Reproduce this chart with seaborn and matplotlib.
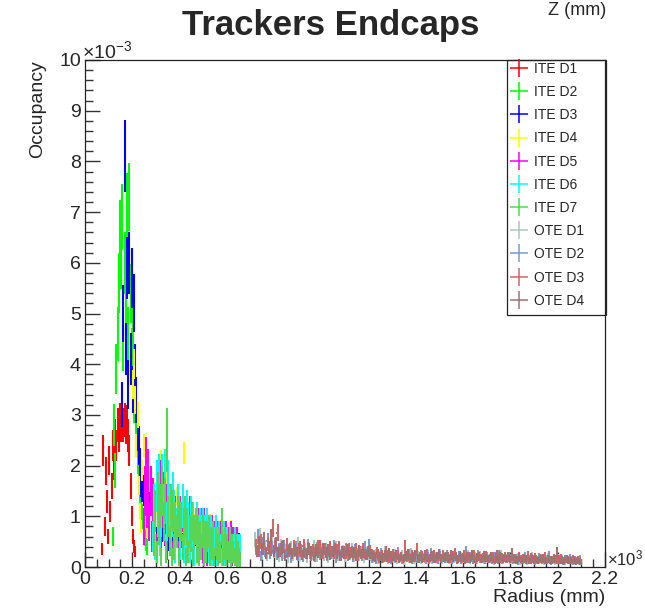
import numpy as np
import seaborn as sns
import matplotlib.pyplot as plt
from matplotlib.lines import Line2D
from matplotlib.patches import Rectangle
from matplotlib.ticker import MultipleLocator, FuncFormatter

# Occupancy per radius bin (units of 1e-3)
ite_d1 = [0.35, 2.3, 0.8, 1.9, 1.3, 0.6, 2.1, 1.1, 1.6, 2.4, 2.0, 2.6, 2.4, 2.8, 2.6,
          2.9, 2.8, 2.95, 2.8, 2.9, 2.75, 2.85, 2.6, 2.3, 1.6, 1.0, 0.6, 0.4, 0.3]
ite_d2 = [0.6, 2.8, 1.9, 3.9, 4.6, 5.6, 6.6, 6.1, 6.9, 4.4, 6.0, 5.1, 7.1, 4.6, 7.3,
          5.4, 4.2, 4.6, 3.3, 3.4, 2.6, 2.2, 1.9, 1.5, 1.3, 1.0, 0.8, 0.6, 0.5, 0.4]
ite_d3 = [3.2, 5.0, 8.1, 4.3, 5.9, 3.6, 6.0, 4.1, 5.7, 3.5, 5.2, 3.9, 3.3, 2.7, 2.4,
          2.0, 1.7, 1.6, 1.5, 1.3, 1.2, 1.1, 1.0, 1.2, 1.3, 1.1,
          0.9, 0.7, 1.0, 0.6, 0.8, 1.1, 0.5, 0.9, 0.7, 1.2, 0.6, 0.8, 1.0, 0.5, 0.9,
          0.7, 1.1, 0.6, 0.8, 0.5, 0.9, 1.2, 0.6, 0.7, 1.0, 0.5, 0.8, 0.6, 0.9, 0.7,
          0.5, 0.8, 0.6, 0.9, 0.4, 0.7, 0.6, 0.8, 0.5, 0.7, 0.6, 0.4, 0.8, 0.5, 0.7,
          0.6, 0.4, 0.7, 0.5, 0.6, 0.4, 0.7, 0.5, 0.3, 0.6, 0.5, 0.4, 0.6, 0.3, 0.5,
          0.4, 0.6, 0.3, 0.5, 0.4, 0.3, 0.5, 0.4, 0.6, 0.3, 0.5, 0.6, 0.4, 0.5, 0.3]
ite_d4 = [3.6, 4.0, 3.3, 2.4, 3.0, 1.6, 1.1, 0.8, 1.9, 2.4, 1.2, 0.9, 0.7, 1.0, 0.8,
          1.2, 0.9, 1.4, 1.1,
          1.5, 1.2, 1.7, 1.3, 1.9, 2.1, 1.4, 1.6, 1.2, 1.8, 1.3, 1.5, 1.1, 1.4, 1.0,
          1.3, 1.2, 0.9, 1.4, 1.1, 1.3, 1.2, 1.0, 1.3, 2.25, 1.1, 0.9, 1.2, 1.0, 1.1,
          0.8, 1.0, 1.1, 0.9, 0.8, 1.0, 0.7, 0.9, 0.8, 1.0, 0.7, 0.8, 0.9, 0.6, 0.8,
          0.7, 0.9, 0.6, 0.8, 0.7, 0.6, 0.8, 0.5, 0.7, 0.6, 0.8, 0.5, 0.6, 0.7, 0.5,
          0.6, 0.7, 0.4, 0.6, 0.8, 0.5, 0.4, 0.6, 0.5, 0.3]
ite_d5 = [0.8, 1.5, 2.0, 1.2, 1.8, 0.9, 1.5, 0.6, 1.3, 0.8, 1.1, 0.4, 1.3, 0.9, 1.6,
          0.5, 1.2, 1.4, 0.8, 1.2, 0.4, 1.5, 0.7, 1.1, 0.3, 1.3, 0.6, 1.0, 0.8, 1.2,
          0.3, 1.0, 0.7, 1.1, 0.4, 1.0, 0.6, 0.9, 0.3, 1.0, 0.7, 0.8, 0.9, 0.3, 0.8,
          0.9, 0.4, 0.8, 0.6, 0.8, 0.3, 0.8, 0.5, 0.7, 0.2, 0.5, 0.7, 0.3, 0.7, 0.4,
          0.6, 0.2, 0.5, 0.6, 0.3, 0.6, 0.5, 0.2, 0.3, 0.5, 0.6, 0.2, 0.5, 0.3, 0.6,
          0.2, 0.5, 0.3, 0.4, 0.5, 0.2, 0.3]
ite_d6 = [0.6, 1.2, 0.4, 1.6, 1.0, 1.7, 0.5, 1.0, 1.7, 1.2, 1.8, 0.4, 0.9, 1.6, 1.2,
          0.5, 1.0, 1.4, 1.1, 0.3, 0.8, 1.2, 1.0, 0.4, 0.9, 1.2, 0.3, 1.0, 0.7, 1.1,
          0.9, 0.3, 1.0, 0.7, 0.9, 0.2, 0.8, 0.9, 0.6, 0.3, 0.8, 0.7, 0.8, 0.2, 0.7,
          0.7, 0.8, 0.3, 0.7, 0.7, 0.2, 0.6, 0.5, 0.7, 0.2, 0.5, 0.6, 0.4, 0.2, 0.5,
          0.6, 0.2, 0.5, 0.5, 0.3, 0.5, 0.2, 0.4, 0.4, 0.5, 0.2, 0.4, 0.4, 0.2, 0.4]
ite_d7 = [0.5, 1.1, 0.3, 1.4, 0.8, 1.2, 0.2, 1.5, 0.9, 1.3, 0.3, 2.5, 1.0, 0.5, 1.2,
          0.2, 1.1, 0.4, 0.9, 0.7, 1.0, 0.2, 0.9, 0.9, 0.4, 0.8, 1.0, 0.2, 0.8, 0.3,
          0.7, 0.6, 0.9, 0.2, 0.7, 0.8, 0.3, 0.7, 0.2, 0.6, 0.4, 0.7, 0.2, 0.6, 0.3,
          0.6, 0.7, 0.2, 0.5, 0.4, 0.6, 0.2, 0.5, 0.4, 0.2, 0.5, 0.3, 0.8, 0.2, 0.4,
          0.5, 0.2, 0.4, 0.3, 0.5, 0.15, 0.4, 0.3, 0.2, 0.4, 0.15, 0.3, 0.2, 0.15]

ote_d1 = [0.55, 0.3, 0.62, 0.25, 0.4, 0.2, 0.35, 0.5, 0.28,
          0.3, 0.18, 0.42, 0.25, 0.33, 0.15, 0.38, 0.22, 0.3, 0.45,
          0.2, 0.27, 0.35, 0.16, 0.31, 0.24, 0.4, 0.19, 0.28, 0.33,
          0.21, 0.36, 0.17, 0.29, 0.25, 0.38, 0.2, 0.26, 0.32, 0.18,
          0.3, 0.23, 0.35, 0.19, 0.27, 0.22, 0.31, 0.16, 0.28, 0.24,
          0.2, 0.15, 0.26, 0.12, 0.22, 0.18, 0.3, 0.14, 0.21, 0.17,
          0.25, 0.13, 0.19, 0.23, 0.11, 0.2, 0.16, 0.27, 0.14, 0.18,
          0.22, 0.12, 0.19, 0.15, 0.24, 0.17, 0.13, 0.21, 0.18, 0.26,
          0.14, 0.2, 0.16, 0.12, 0.23, 0.17, 0.19, 0.13, 0.21, 0.15,
          0.18, 0.24, 0.12, 0.17, 0.2, 0.14, 0.22, 0.16, 0.13, 0.19,
          0.15, 0.21, 0.11, 0.18, 0.16, 0.23, 0.13, 0.17, 0.2, 0.14,
          0.16, 0.12, 0.19, 0.1, 0.15, 0.18, 0.11, 0.14, 0.2, 0.12,
          0.16, 0.13, 0.17, 0.1, 0.15, 0.19, 0.12, 0.14, 0.11, 0.17,
          0.13, 0.15, 0.1, 0.16, 0.12, 0.14, 0.11, 0.13, 0.1]
ote_d2 = [0.35, 0.6, 0.22, 0.45, 0.3, 0.52, 0.26, 0.38, 0.44,
          0.24, 0.36, 0.2, 0.41, 0.28, 0.33, 0.17, 0.3, 0.39, 0.22,
          0.34, 0.19, 0.29, 0.42, 0.25, 0.31, 0.18, 0.37, 0.23, 0.28,
          0.35, 0.2, 0.3, 0.26, 0.4, 0.17, 0.32, 0.24, 0.29, 0.36,
          0.21, 0.27, 0.19, 0.33, 0.25, 0.3, 0.2, 0.38, 0.26, 0.42,
          0.17, 0.23, 0.14, 0.2, 0.27, 0.15, 0.19, 0.24, 0.13, 0.21,
          0.16, 0.28, 0.18, 0.14, 0.22, 0.19, 0.25, 0.12, 0.2, 0.17,
          0.15, 0.23, 0.18, 0.13, 0.21, 0.27, 0.16, 0.19, 0.14, 0.22,
          0.18, 0.15, 0.24, 0.17, 0.12, 0.2, 0.16, 0.22, 0.14, 0.19,
          0.31, 0.16, 0.2, 0.13, 0.18, 0.23, 0.15, 0.19, 0.12, 0.21,
          0.17, 0.14, 0.2, 0.16, 0.24, 0.13, 0.18, 0.15, 0.21, 0.17,
          0.14, 0.18, 0.11, 0.16, 0.13, 0.2, 0.12, 0.15, 0.17, 0.1,
          0.14, 0.19, 0.12, 0.16, 0.13, 0.22, 0.11, 0.15, 0.14, 0.12,
          0.17, 0.1, 0.15, 0.13, 0.18, 0.11, 0.14, 0.12, 0.15]
ote_d3 = [0.42, 0.3, 0.5, 0.35, 0.28, 0.46, 0.33, 0.77, 0.4,
          0.68, 0.3, 0.38, 0.25, 0.44, 0.32, 0.27, 0.4, 0.23, 0.35,
          0.3, 0.42, 0.26, 0.37, 0.22, 0.33, 0.29, 0.4, 0.41, 0.27,
          0.36, 0.24, 0.39, 0.3, 0.25, 0.34, 0.38, 0.22, 0.31, 0.27,
          0.35, 0.29, 0.24, 0.36, 0.21, 0.3, 0.35, 0.26, 0.23, 0.32,
          0.25, 0.2, 0.28, 0.16, 0.23, 0.19, 0.3, 0.17, 0.22, 0.26,
          0.18, 0.24, 0.21, 0.15, 0.4, 0.2, 0.17, 0.23, 0.19, 0.36,
          0.16, 0.22, 0.18, 0.25, 0.14, 0.2, 0.23, 0.17, 0.21, 0.15,
          0.24, 0.18, 0.2, 0.16, 0.22, 0.27, 0.14, 0.19, 0.17, 0.23,
          0.15, 0.2, 0.18, 0.24, 0.13, 0.21, 0.17, 0.19, 0.22, 0.15,
          0.18, 0.2, 0.14, 0.23, 0.16, 0.19, 0.21, 0.15, 0.18, 0.2,
          0.17, 0.13, 0.2, 0.15, 0.18, 0.12, 0.22, 0.14, 0.16, 0.19,
          0.13, 0.17, 0.15, 0.2, 0.12, 0.16, 0.14, 0.18, 0.13, 0.15,
          0.17, 0.12, 0.16, 0.14, 0.13, 0.15, 0.12, 0.14, 0.11]
ote_d4 = [0.3, 0.48, 0.35, 0.55, 0.27, 0.38, 0.6, 0.32, 0.45,
          0.28, 0.35, 0.4, 0.22, 0.3, 0.36, 0.26, 0.33, 0.29, 0.38,
          0.24, 0.31, 0.27, 0.35, 0.3, 0.21, 0.34, 0.28, 0.25, 0.36,
          0.29, 0.33, 0.23, 0.3, 0.35, 0.26, 0.22, 0.31, 0.27, 0.33,
          0.24, 0.3, 0.28, 0.21, 0.32, 0.26, 0.29, 0.23, 0.31, 0.25,
          0.22, 0.18, 0.25, 0.2, 0.16, 0.23, 0.19, 0.27, 0.17, 0.21,
          0.24, 0.15, 0.2, 0.18, 0.22, 0.26, 0.16, 0.19, 0.23, 0.17,
          0.21, 0.15, 0.24, 0.19, 0.18, 0.22, 0.16, 0.2, 0.25, 0.17,
          0.19, 0.21, 0.15, 0.23, 0.18, 0.2, 0.16, 0.22, 0.19, 0.14,
          0.21, 0.17, 0.23, 0.15, 0.19, 0.2, 0.16, 0.22, 0.18, 0.15,
          0.2, 0.17, 0.19, 0.14, 0.21, 0.16, 0.18, 0.2, 0.15, 0.27,
          0.16, 0.14, 0.18, 0.12, 0.17, 0.15, 0.13, 0.19, 0.14, 0.16,
          0.12, 0.15, 0.17, 0.13, 0.16, 0.14, 0.12, 0.15, 0.28, 0.13,
          0.14, 0.11, 0.15, 0.12, 0.13, 0.14, 0.11, 0.12, 0.1]

labels = ["ITE D1", "ITE D2", "ITE D3", "ITE D4", "ITE D5", "ITE D6", "ITE D7",
          "OTE D1", "OTE D2", "OTE D3", "OTE D4"]
# radius of first bin centre (mm) and bin width (mm) for each histogram
first_bin = [72.5, 117.5, 157.5, 202.5, 247.5, 287.5, 292.5, 720, 722.5, 725, 727.5]
bin_width = [5, 5, 5, 5, 5, 5, 5, 10, 10, 10, 10]
# error ~ scale * sqrt(content)
err_scale = [0.2, 0.25, 0.25, 0.15, 0.4, 0.4, 0.4, 0.2, 0.2, 0.2, 0.2]
colors = ["#ff0000", "#00ff00", "#0000ff", "#ffff00", "#ff00ff", "#00ffff", "#59d454",
          "#a9c9bd", "#7d99d1", "#d46466", "#a07272"]
all_values = [ite_d1, ite_d2, ite_d3, ite_d4, ite_d5, ite_d6, ite_d7,
              ote_d1, ote_d2, ote_d3, ote_d4]

sns.set_style("ticks")
plt.rcParams["font.family"] = ["Liberation Sans", "DejaVu Sans"]

W, H = 645, 612
fig = plt.figure(figsize=(W / 100, H / 100), dpi=100)
ax = fig.add_axes([85 / W, 1 - 567 / H, 520 / W, 507 / H])

for vals, x0, w, k, c in zip(all_values, first_bin, bin_width, err_scale, colors):
    v = np.asarray(vals)
    x = x0 + w * np.arange(len(v))
    ax.errorbar(x, v, xerr=w / 2, yerr=k * np.sqrt(v), fmt="none",
                ecolor=c, elinewidth=1.5, capsize=0)

ax.set_xlim(0, 2200)
ax.set_ylim(0, 10)
ax.xaxis.set_major_locator(MultipleLocator(200))
ax.xaxis.set_minor_locator(MultipleLocator(50))
ax.yaxis.set_major_locator(MultipleLocator(1))
ax.yaxis.set_minor_locator(MultipleLocator(0.2))
ax.xaxis.set_major_formatter(FuncFormatter(lambda v, p: f"{v / 1000:g}"))
ax.yaxis.set_major_formatter(FuncFormatter(lambda v, p: f"{v:g}"))
ax.tick_params(which="both", direction="in", top=False, right=False,
               color="#333333", width=1.0)
ax.tick_params(which="major", length=11, labelsize=14, pad=3)
ax.tick_params(which="minor", length=5.5)
for sp in ax.spines.values():
    sp.set_color("#222222")
    sp.set_linewidth(0.9)

fig.text(38 / W, 1 - 60 / H, "Occupancy", rotation=90, ha="center", va="top", fontsize=14)
fig.text(605 / W, 1 - 597 / H, "Radius (mm)", ha="right", va="center", fontsize=14)
fig.text(331 / W, 1 - 26 / H, "Trackers Endcaps", ha="center", va="center",
         fontsize=25, fontweight="bold")
fig.text(606 / W, 1 - 2 / H, "Z (mm)", ha="right", va="top", fontsize=13)
fig.text(82 / W, 1 - 58 / H, r"$\mathregular{\times10^{-3}}$", ha="left",
         va="baseline", fontsize=14)
fig.text(643 / W, 1 - 565 / H, r"$\mathregular{\times10^{3}}$", ha="right",
         va="baseline", fontsize=12)

handles = [Line2D([], [], color=c, marker="+", markersize=13, markeredgewidth=1.1,
                  linestyle="None") for c in colors]
fig.legend(handles, labels, loc="upper left", bbox_to_anchor=(509 / W, 1 - 62 / H),
           bbox_transform=fig.transFigure, frameon=False, fontsize=10,
           handlelength=1.5, handletextpad=0.3, labelspacing=0.66,
           borderpad=0, borderaxespad=0)
fig.add_artist(Rectangle((507 / W, 1 - 315 / H), 99 / W, 255 / H,
                         transform=fig.transFigure, fill=False,
                         edgecolor="#222222", linewidth=0.9))

fig.savefig("out.png", dpi=100)
